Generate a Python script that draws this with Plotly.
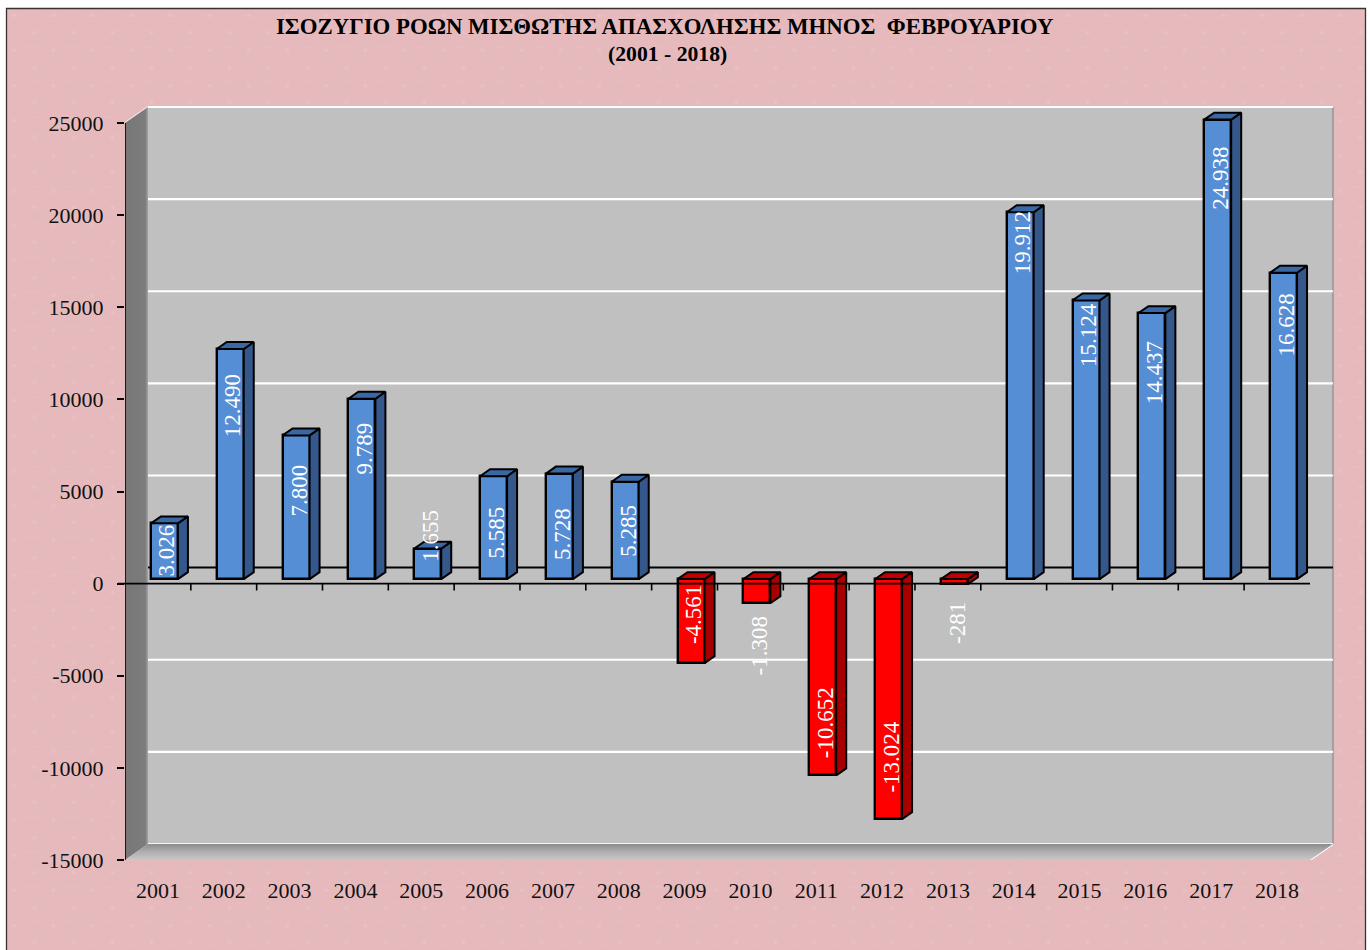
import base64
import plotly.graph_objects as go

years = [str(y) for y in range(2001, 2019)]
values = [3026, 12490, 7800, 9789, 1655, 5585, 5728, 5285, -4561, -1308,
          -10652, -13024, -281, 19912, 15124, 14437, 24938, 16628]
value_labels = ["3.026", "12.490", "7.800", "9.789", "1.655", "5.585", "5.728", "5.285",
                "-4.561", "-1.308", "-10.652", "-13.024", "-281", "19.912", "15.124",
                "14.437", "24.938", "16.628"]
y_ticks = [-15000, -10000, -5000, 0, 5000, 10000, 15000, 20000, 25000]
y_tick_text = ["-15000", "-10000", "-5000", "0", "5000", "10000", "15000", "20000", "25000"]
title_lines = ["ΙΣΟΖΥΓΙΟ ΡΟΩΝ ΜΙΣΘΩΤΗΣ ΑΠΑΣΧΟΛΗΣΗΣ ΜΗΝΟΣ\u00a0\u00a0ΦΕΒΡΟΥΑΡΙΟΥ", "(2001 - 2018)"]
# vertical centre of each rotated value label (px on the page)
label_centre_px = [550.5, 405.5, 491, 448, 535.5, 532.5, 534, 531, 614.5, 646, 723, 757.5, 623,
                   242.5, 335.5, 373, 178.5, 325.5]

W, H = 1370, 950
PL, PR, PT, PB = 125, 1335, 100, 860      # plot area in px
PX_PER_CAT = 65.83
PX_PER_VAL = 737 / 40000
DX, DY = 23, 16                           # full depth of the oblique box, px
BAR_W = 27
BAR_D0, BAR_D1 = 6.5 / 23, 16.5 / 23      # bar depth as fraction of box depth
SERIF = "Liberation Serif"

x_low, x_high = 0.5, 0.5 + (PR - PL) / PX_PER_CAT
y_low, y_high = -15000, -15000 + (PB - PT) / PX_PER_VAL


def pt(cat, val, depth=0.0, dx_px=0.0):
    """Oblique projection: category/value at a depth fraction -> axis coordinates."""
    return (cat + (depth * DX + dx_px) / PX_PER_CAT, val + depth * DY / PX_PER_VAL)


def px_val(py):
    return y_low + (PB - py) / PX_PER_VAL


def poly_trace(polys, fill, line="black", lw=2):
    xs, ys = [], []
    for p in polys:
        xs += [q[0] for q in p] + [p[0][0], None]
        ys += [q[1] for q in p] + [p[0][1], None]
    return go.Scatter(x=xs, y=ys, mode="lines", fill="toself", fillcolor=fill,
                      line=dict(color=line, width=lw), hoverinfo="skip", showlegend=False)


def line_shape(a, b, color, width, layer="below"):
    return dict(type="line", xref="x", yref="y", x0=a[0], y0=a[1], x1=b[0], y1=b[1],
                line=dict(color=color, width=width), layer=layer)


cats = list(range(1, len(years) + 1))
x_a, x_b = 0.5, 18.5
shapes = []

# chart sheet: pink paper with a very faint woven pattern
px_x = lambda p: (p - PL) / (PR - PL)
px_y = lambda p: (PB - p) / (PB - PT)
tile = ('<svg xmlns="http://www.w3.org/2000/svg" width="1359" height="952">'
        '<defs><pattern id="p" width="39" height="35" patternUnits="userSpaceOnUse">'
        '<rect width="39" height="35" fill="#e6babd"/>'
        '<ellipse cx="8" cy="7" rx="2.2" ry="1.6" fill="#f2d2d2" opacity="0.3"/>'
        '<ellipse cx="28" cy="24" rx="2.2" ry="1.6" fill="#f2d2d2" opacity="0.3"/>'
        '<rect x="0" y="15" width="39" height="1" fill="#dcabb0" opacity="0.2"/>'
        '<rect x="3" y="31" width="14" height="1" fill="#dcabb0" opacity="0.2"/>'
        '<rect x="20" y="3" width="12" height="1" fill="#eecaca" opacity="0.25"/>'
        '</pattern></defs><rect width="1359" height="952" fill="url(#p)"/></svg>')
tile_src = "data:image/svg+xml;base64," + base64.b64encode(tile.encode()).decode()
images = [dict(source=tile_src, xref="paper", yref="paper", x=px_x(6.5), y=px_y(8.5),
               sizex=px_x(1365.5) - px_x(6.5), sizey=px_y(8.5) - px_y(960.5),
               sizing="stretch", xanchor="left", yanchor="top", layer="below")]
shapes.append(dict(type="rect", xref="paper", yref="paper", x0=px_x(6.5), x1=px_x(1365.5),
                   y0=px_y(960), y1=px_y(8.5), fillcolor="rgba(0,0,0,0)",
                   line=dict(color="#3a3030", width=1.3), layer="below"))

# back wall
back_bl, back_tr = pt(x_a, -15000, 1), pt(x_b, 25000, 1)
shapes.append(dict(type="rect", xref="x", yref="y", x0=back_bl[0], y0=back_bl[1],
                   x1=back_tr[0], y1=back_tr[1], fillcolor="#c0c0c0",
                   line=dict(width=0), layer="below"))
shapes.append(line_shape(pt(x_b, -15000, 1), pt(x_b, 25000, 1), "#a0a0a0", 2))

traces = []

# left wall
wall = [pt(x_a, -15000, 0), pt(x_a, 25000, 0), pt(x_a, 25000, 1), pt(x_a, -15000, 1)]
traces.append(go.Scatter(x=[q[0] for q in wall] + [wall[0][0]], y=[q[1] for q in wall] + [wall[0][1]],
                         mode="lines", fill="toself", line=dict(width=0), hoverinfo="skip", showlegend=False,
                         fillgradient=dict(type="horizontal",
                                           colorscale=[[0, "#777777"], [0.88, "#7c7c7c"], [1, "#a4a4a4"]])))
# floor
floor = [pt(x_a, -15000, 0), pt(x_a, -15000, 1), pt(x_b, -15000, 1), pt(x_b, -15000, 0)]
traces.append(go.Scatter(x=[q[0] for q in floor] + [floor[0][0]], y=[q[1] for q in floor] + [floor[0][1]],
                         mode="lines", fill="toself", line=dict(width=0), hoverinfo="skip", showlegend=False,
                         fillgradient=dict(type="vertical",
                                           colorscale=[[0, "#c8c8c8"], [0.55, "#acacac"], [1, "#8c8c8c"]])))

for v in y_ticks:
    c = "black" if v == 0 else "#ffffff"
    w = 2 if v == 0 else 2.2
    if v != -15000:
        shapes.append(line_shape(pt(x_a, v, 1), pt(x_b, v, 1), c, w, "below"))
    shapes.append(line_shape(pt(x_a, v, 0), pt(x_a, v, 1), "#f2f2f2", 1.6, "between"))

# floor outline
shapes.append(line_shape(pt(x_a, -15000, 1), pt(x_b, -15000, 1), "#f4f4f4", 2, "between"))
shapes.append(line_shape(pt(x_a, -15000, 0), pt(x_b, -15000, 0), "#d8d8d8", 2, "between"))
shapes.append(line_shape(pt(x_b, -15000, 0), pt(x_b, -15000, 1), "#ffffff", 2, "between"))

# bars: front faces through the bar trace, sides and tops through polygons
front_base = BAR_D0 * DY / PX_PER_VAL
bar_x = [pt(c, 0, BAR_D0)[0] for c in cats]
bar_colors = ["#558ed5" if v >= 0 else "#ff0000" for v in values]
traces.append(go.Bar(x=bar_x, y=values, base=front_base, width=BAR_W / PX_PER_CAT,
                     marker=dict(color=bar_colors, line=dict(color="black", width=2.4)),
                     hoverinfo="skip", showlegend=False))

hw = BAR_W / 2
side_pos, side_neg, top_pos, top_neg = [], [], [], []
for c, v in zip(cats, values):
    top_v = max(v, 0)
    a_side = [pt(c, 0, BAR_D0, hw), pt(c, v, BAR_D0, hw), pt(c, v, BAR_D1, hw), pt(c, 0, BAR_D1, hw)]
    a_top = [pt(c, top_v, BAR_D0, -hw), pt(c, top_v, BAR_D0, hw), pt(c, top_v, BAR_D1, hw), pt(c, top_v, BAR_D1, -hw)]
    if v >= 0:
        side_pos.append(a_side); top_pos.append(a_top)
    else:
        side_neg.append(a_side); top_neg.append(a_top)
traces.append(poly_trace(side_pos, "#35588c"))
traces.append(poly_trace(top_pos, "#3a68a4"))
traces.append(poly_trace(side_neg, "#a60000"))
traces.append(poly_trace(top_neg, "#c00000"))

# front axis: value axis line, zero line with tick marks
shapes.append(line_shape(pt(x_a, -15000), pt(x_a, 25000), "black", 1.6, "above"))
shapes.append(dict(type="line", xref="paper", yref="y", x0=px_x(118), x1=px_x(1310),
                   y0=0, y1=0, line=dict(color="black", width=1.8), layer="above"))
for c in cats[:-1]:
    shapes.append(dict(type="line", xref="x", yref="paper",
                       x0=c + 0.5, x1=c + 0.5, y0=px_y(584), y1=px_y(590.5),
                       line=dict(color="black", width=1.6), layer="above"))

annotations = []
for c, text, py in zip(cats, value_labels, label_centre_px):
    annotations.append(dict(x=pt(c, 0, BAR_D0)[0], y=px_val(py), xref="x", yref="y", text=text,
                            textangle=-90, showarrow=False, xshift=2.5, xanchor="center", yanchor="middle",
                            font=dict(family=SERIF, size=23, color="white")))
annotations.append(dict(xref="paper", yref="paper", x=px_x(665), y=px_y(27), text=title_lines[0],
                        xanchor="center", yanchor="middle", showarrow=False,
                        font=dict(family=SERIF, size=22.8, color="black", weight="bold")))
annotations.append(dict(xref="paper", yref="paper", x=px_x(667.5), y=px_y(54), text=title_lines[1],
                        xanchor="center", yanchor="middle", showarrow=False,
                        font=dict(family=SERIF, size=21.7, color="black", weight="bold")))

fig = go.Figure(traces)
fig.update_layout(
    width=W, height=H, margin=dict(l=PL, r=W - PR, t=PT, b=H - PB),
    paper_bgcolor="white", plot_bgcolor="rgba(0,0,0,0)", showlegend=False, bargap=0,
    shapes=shapes, annotations=annotations, images=images,
    font=dict(family=SERIF, size=22, color="#111111"),
    xaxis=dict(range=[x_low, x_high], tickvals=cats, ticktext=years, showgrid=False, zeroline=False,
               showline=False, ticks="", ticklabelstandoff=15, tickangle=0,
               tickfont=dict(family=SERIF, size=22, color="#111111")),
    yaxis=dict(range=[y_low, y_high], tickvals=y_ticks, ticktext=y_tick_text, showgrid=False, zeroline=False,
               showline=False, ticks="outside", ticklen=7, tickwidth=1.5, tickcolor="black",
               ticklabelstandoff=9, tickfont=dict(family=SERIF, size=22, color="#111111")),
)
fig.write_html("out.html", post_script="document.body.style.margin='0';",
               config=dict(displayModeBar=False))
